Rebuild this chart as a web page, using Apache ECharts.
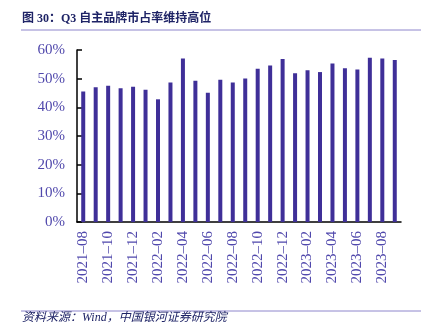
<!DOCTYPE html>
<html>
<head>
<meta charset="utf-8">
<script src="https://cdn.jsdelivr.net/npm/echarts@6/dist/echarts.min.js"></script>
<style>html,body{margin:0;padding:0;background:#fff;}#c{width:436px;height:334px;}</style>
</head>
<body>
<div id="c"></div>
<script>
const categories = ['2021-08','2021-09','2021-10','2021-11','2021-12','2022-01','2022-02','2022-03','2022-04','2022-05','2022-06','2022-07','2022-08','2022-09','2022-10','2022-11','2022-12','2023-01','2023-02','2023-03','2023-04','2023-05','2023-06','2023-07','2023-08','2023-09'];
const share = [45.5,47.0,47.5,46.7,47.2,46.1,42.8,48.7,57.0,49.3,45.1,49.6,48.7,50.1,53.5,54.6,56.9,51.9,52.9,52.3,55.3,53.6,53.2,57.3,57.0,56.5];
const titleText = '图 30：Q3 自主品牌市占率维持高位';
const sourceText = '资料来源：Wind，中国银河证券研究院';

const serif = '"Liberation Serif","DejaVu Serif","Noto Sans CJK SC",serif';
const labelColor = '#5048AC';
const chart = echarts.init(document.getElementById('c'), null, {renderer:'canvas'});
chart.setOption({
  animation: false,
  backgroundColor: '#fff',
  grid: {left: 77, right: 35, top: 50, bottom: 112, containLabel: false},
  xAxis: {
    type: 'category',
    data: categories.map(s => s.replace('-', '–')),
    boundaryGap: true,
    axisLine: {lineStyle: {color: '#000', width: 1.5}},
    axisTick: {inside: true, length: 5, interval: 1, lineStyle: {color: '#000', width: 1.5}},
    axisLabel: {rotate: 90, interval: 1, margin: 9, color: labelColor, fontFamily: serif, fontSize: 15}
  },
  yAxis: {
    type: 'value', min: 0, max: 60, interval: 10,
    axisLine: {show: true, lineStyle: {color: '#000', width: 1.5}},
    axisTick: {show: true, inside: true, length: 5, lineStyle: {color: '#000', width: 1.5}},
    splitLine: {show: false},
    axisLabel: {formatter: '{value}%', margin: 12, color: labelColor, fontFamily: serif, fontSize: 15}
  },
  series: [{
    type: 'bar', data: share, barWidth: 4,
    itemStyle: {color: '#3F2F98'}
  }],
  graphic: [
    {type: 'text', left: 22, top: 13, style: {text: titleText, fill: '#1E2366', font: 'bold 12px "Liberation Serif","Noto Sans CJK SC",serif'}},
    {type: 'line', shape: {x1: 21, y1: 30, x2: 421, y2: 30}, style: {stroke: '#8E86CC', lineWidth: 1}},
    {type: 'line', shape: {x1: 21, y1: 311, x2: 421, y2: 311}, style: {stroke: '#8E86CC', lineWidth: 1}},
    {type: 'text', left: 22, top: 312, style: {text: sourceText, fill: '#1E2366', font: 'italic 12px "Liberation Serif","Noto Sans CJK SC",serif'}}
  ]
});
</script>
</body>
</html>
